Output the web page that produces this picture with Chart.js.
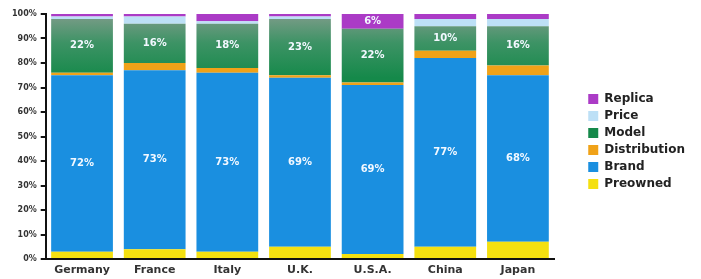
<!DOCTYPE html>
<html>
<head>
<meta charset="utf-8">
<script src="https://cdn.jsdelivr.net/npm/chart.js@4"></script>
<style>
html,body{margin:0;padding:0;background:#fff;}
#wrap{width:701px;height:279px;position:relative;}
</style>
</head>
<body>
<div id="wrap"><canvas id="c" width="701" height="279"></canvas></div>
<script>
const categories = ["Germany", "France", "Italy", "U.K.", "U.S.A.", "China", "Japan"];
const preowned     = [3, 4, 3, 5, 2, 5, 7];
const brand        = [72, 73, 73, 69, 69, 77, 68];
const distribution = [1, 3, 2, 1, 1, 3, 4];
const model        = [22, 16, 18, 23, 22, 10, 16];
const price        = [1, 3, 1, 1, 0, 3, 3];
const replica      = [1, 1, 3, 1, 6, 2, 2];
const yTicks = [0, 10, 20, 30, 40, 50, 60, 70, 80, 90, 100];

function modelGradient(ctx) {
  const chart = ctx.chart;
  const y = chart.scales.y;
  if (!chart.chartArea || !y) return '#2f8c58';
  const g = chart.ctx.createLinearGradient(0, y.getPixelForValue(100), 0, y.getPixelForValue(74));
  g.addColorStop(0, '#7e9c8a');
  g.addColorStop(0.45, '#3d9365');
  g.addColorStop(1, '#15894a');
  return g;
}

const labelPlugin = {
  id: 'segLabels',
  afterLayout(chart) {
    if (chart.legend) { chart.legend.top -= 5; chart.legend.bottom -= 5; }
  },
  afterDatasetsDraw(chart) {
    const c = chart.ctx;
    c.save();
    c.font = 'bold 10px "DejaVu Sans"';
    c.fillStyle = '#f2f8ff';
    c.textAlign = 'center';
    c.textBaseline = 'middle';
    chart.data.datasets.forEach((ds, di) => {
      const meta = chart.getDatasetMeta(di);
      meta.data.forEach((bar, i) => {
        const v = ds.data[i];
        if (v >= 5 && di !== 0) {
          c.fillText(v + '%', bar.x, (bar.y + bar.base) / 2);
        }
      });
    });
    c.restore();
  }
};

new Chart(document.getElementById('c'), {
  type: 'bar',
  data: {
    labels: categories,
    datasets: [
      { label: 'Preowned', data: preowned, backgroundColor: '#f4e010' },
      { label: 'Brand', data: brand, backgroundColor: '#1a8fe0' },
      { label: 'Distribution', data: distribution, backgroundColor: '#f0a218' },
      { label: 'Model', data: model, backgroundColor: modelGradient },
      { label: 'Price', data: price, backgroundColor: '#bde0f6' },
      { label: 'Replica', data: replica, backgroundColor: '#ab3bc6' }
    ]
  },
  options: {
    responsive: false,
    animation: false,
    devicePixelRatio: 1,
    layout: { padding: { left: 8, top: 14, bottom: 0, right: 6 } },
    datasets: { bar: { barPercentage: 0.85, categoryPercentage: 1.0, borderWidth: 0 } },
    plugins: {
      tooltip: { enabled: false },
      legend: {
        position: 'right',
        reverse: true,
        labels: {
          boxWidth: 10, boxHeight: 10, padding: 5,
          color: '#222',
          font: { family: '"DejaVu Sans"', size: 12, weight: 'bold' }
        }
      }
    },
    scales: {
      x: {
        stacked: true,
        grid: { display: false, drawTicks: false },
        border: { display: true, color: '#111', width: 2 },
        ticks: { padding: 5, color: '#333', font: { family: '"DejaVu Sans"', size: 11, weight: 'bold' } },
        afterFit: s => { s.height = 20; }
      },
      y: {
        stacked: true,
        min: 0, max: 100,
        afterBuildTicks: s => { s.ticks = yTicks.map(v => ({ value: v })); },
        grid: { drawOnChartArea: false, drawTicks: true, tickLength: 5, color: '#111', lineWidth: 2 },
        border: { display: true, color: '#111', width: 2 },
        ticks: { padding: 4, color: '#333', callback: v => v + '%', font: { family: '"DejaVu Sans"', size: 8, weight: 'bold' } }
      },
      gap: {
        position: 'right',
        type: 'linear',
        display: true,
        grid: { display: false, drawTicks: false },
        border: { display: false },
        ticks: { display: false },
        afterFit: s => { s.width = 29; }
      }
    }
  },
  plugins: [labelPlugin]
});
</script>
</body>
</html>
